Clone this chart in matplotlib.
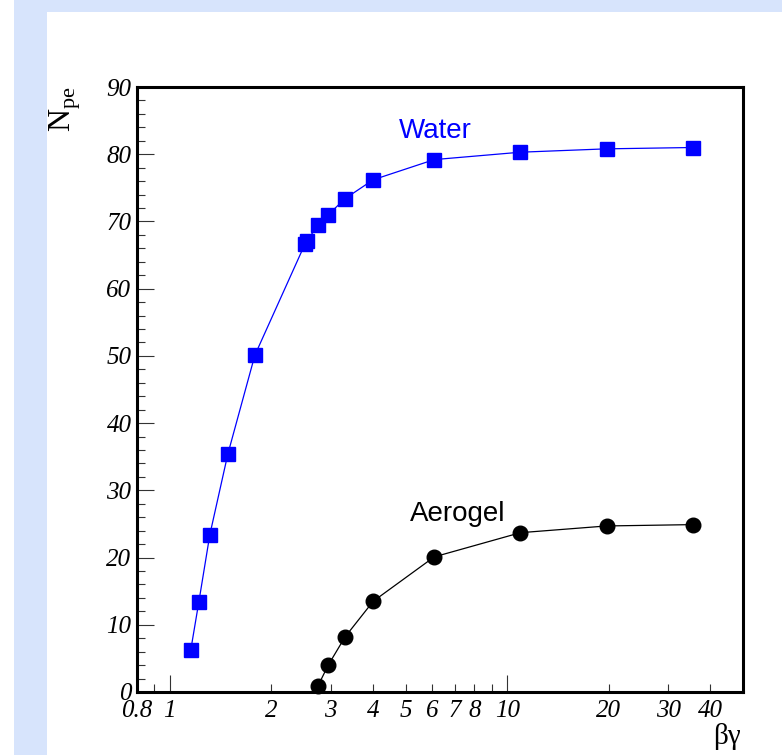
import numpy as np
import matplotlib
matplotlib.use("Agg")
import matplotlib.pyplot as plt
from matplotlib.patches import Rectangle
from matplotlib.ticker import FixedLocator, FixedFormatter

# beta*gamma and number of photoelectrons
water_bg = [1.155, 1.22, 1.315, 1.487, 1.788, 2.52, 2.55, 2.755, 2.95, 3.31, 4.01, 6.08, 10.95, 19.7, 35.5]
water_npe = [6.3, 13.4, 23.4, 35.4, 50.1, 66.7, 67.1, 69.5, 71.0, 73.4, 76.2, 79.2, 80.3, 80.8, 81.0]

aero_bg = [2.75, 2.95, 3.31, 4.01, 6.08, 10.95, 19.7, 35.5]
aero_npe = [0.9, 4.0, 8.2, 13.5, 20.1, 23.7, 24.7, 24.9]

xmaj = [1, 10]
xmaj_lab = ["1", "10"]
xmin = [0.8, 0.9, 2, 3, 4, 5, 6, 7, 8, 9, 20, 30, 40]
xmin_lab = ["0.8", "", "2", "3", "4", "5", "6", "7", "8", "", "20", "30", "40"]

W, H = 782, 755
fig = plt.figure(figsize=(W / 100, H / 100), dpi=100)
fig.patch.set_facecolor("white")
# light blue frame round the pad
fig.add_artist(Rectangle((14 / W, 0), 1, 1, transform=fig.transFigure,
                         facecolor="#d7e4fc", edgecolor="none", zorder=-3))
fig.add_artist(Rectangle((47 / W, 0), 1, (H - 12) / H, transform=fig.transFigure,
                         facecolor="white", edgecolor="none", zorder=-2))

ax = fig.add_axes([137 / W, (H - 692) / H, (743 - 137) / W, (692 - 87) / H])
ax.set_facecolor("white")

ax.plot(water_bg, water_npe, color="#0000ff", lw=0.9, marker="s", ms=10,
        mec="#0000ff", mfc="#0000ff", clip_on=False)
ax.plot(aero_bg, aero_npe, color="black", lw=0.9, marker="o", ms=10.5,
        mec="black", mfc="black", clip_on=False)

ax.set_xscale("log")
ax.set_xlim(0.8, 50)
ax.set_ylim(0, 90)

tickfont = {"family": "Liberation Serif", "style": "italic", "size": 18}

ax.xaxis.set_major_locator(FixedLocator(xmaj))
ax.xaxis.set_major_formatter(FixedFormatter(xmaj_lab))
ax.xaxis.set_minor_locator(FixedLocator(xmin))
ax.xaxis.set_minor_formatter(FixedFormatter(xmin_lab))
ax.yaxis.set_major_locator(FixedLocator(np.arange(0, 91, 10)))
ax.yaxis.set_minor_locator(FixedLocator(np.arange(0, 91, 2)))

ax.tick_params(which="both", direction="in", top=False, right=False, color="#333333")
ax.tick_params(which="major", length=12, width=0.8)
ax.tick_params(which="minor", length=6, width=0.8)
ax.tick_params(axis="x", which="both", pad=6)
ax.tick_params(axis="y", which="both", pad=4)
for lab in ax.get_xticklabels(which="both") + ax.get_yticklabels():
    lab.set_fontfamily(tickfont["family"])
    lab.set_fontstyle(tickfont["style"])
    lab.set_fontsize(tickfont["size"])

for s in ax.spines.values():
    s.set_linewidth(2.2)

ax.text(6.12, 83.4, "Water", color="#0000ff", fontsize=20,
        family="Liberation Sans", ha="center", va="center")
ax.text(7.12, 26.5, "Aerogel", color="black", fontsize=20,
        family="Liberation Sans", ha="center", va="center")

plt.rcParams["mathtext.fontset"] = "custom"
plt.rcParams["mathtext.rm"] = "Liberation Serif"
fig.text(65 / W, 1 - 86 / H, r"$\mathrm{N}_{\mathrm{pe}}$", rotation=90,
         fontsize=23, ha="center", va="top")
fig.text(727 / W, 1 - 737 / H, "βγ", family="Liberation Serif", fontsize=21,
         ha="center", va="center")

fig.savefig("out.png", dpi=100)
